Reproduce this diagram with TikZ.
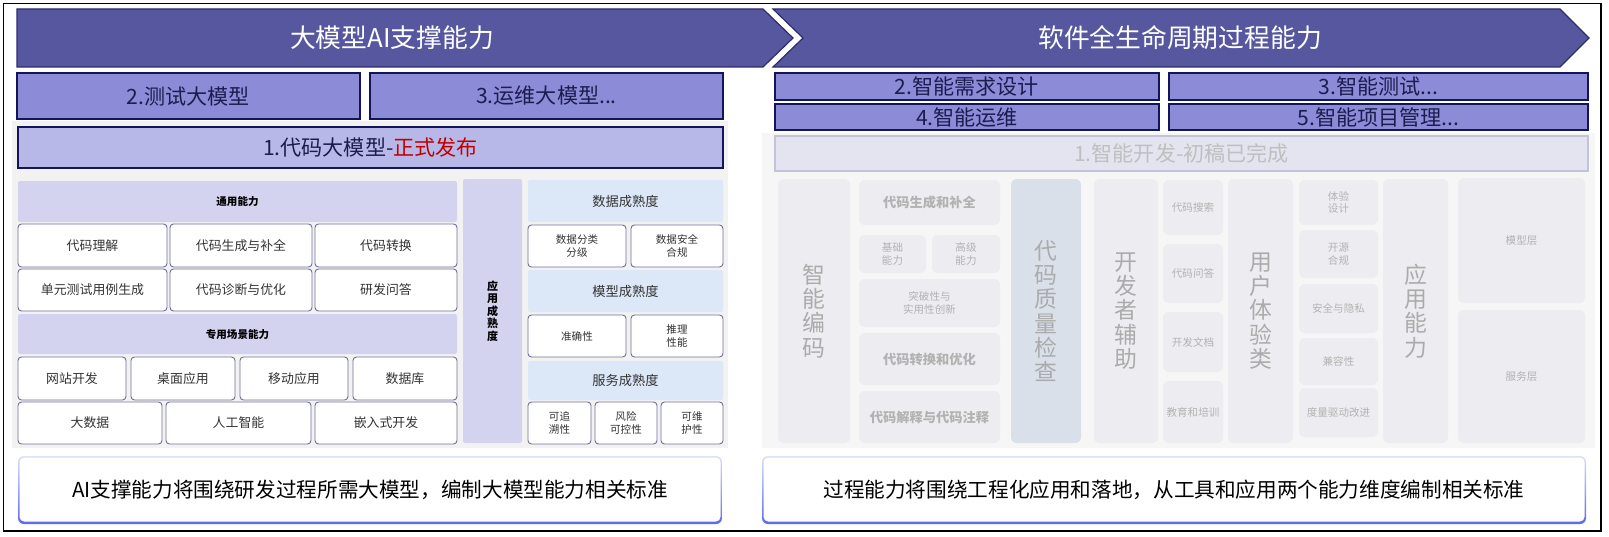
\documentclass[tikz,border=0pt]{standalone}
\usepackage{fontspec}
\setmainfont{Noto Sans CJK SC}

\definecolor{bannerfill}{HTML}{5757A0}
\definecolor{bannerline}{HTML}{2B2B6B}
\definecolor{rowfill}{HTML}{8B8BD7}
\definecolor{rowline}{HTML}{14145A}
\definecolor{rowtext}{HTML}{1C1C50}
\definecolor{mainfill}{HTML}{B8B8E8}
\definecolor{panelgrey}{HTML}{F2F2F2}
\definecolor{headfill}{HTML}{D3D3F0}
\definecolor{cellline}{HTML}{70709A}
\definecolor{bluehead}{HTML}{DCE7F7}
\definecolor{redtext}{HTML}{C00000}
\definecolor{fadefill}{HTML}{EDEDF1}
\definecolor{fadetext}{HTML}{B2B2B2}
\definecolor{checkfill}{HTML}{DAE0EA}
\definecolor{draftfill}{HTML}{E4E4F0}
\definecolor{draftline}{HTML}{C2C2DA}
\definecolor{noteblue}{HTML}{5B68F2}
\definecolor{notelight}{HTML}{DDE1FB}

\begin{document}
\begin{tikzpicture}[x=0.03cm, y=-0.03cm,
  spanbox/.style n args={4}{minimum width={(#3-#1)*0.03cm}, minimum height={(#4-#2)*0.03cm}, at={({(#1+#3)/2},{(#2+#4)/2})}},
  rowbox/.style={draw=rowline, fill=rowfill, line width=1pt, inner sep=0pt, text=rowtext, align=center, font=\fontsize{18}{21}\selectfont},
  headbox/.style={fill=headfill, rounded corners=2pt, inner sep=0pt, text=black, align=center, font=\fontsize{9}{10.6}\selectfont\bfseries},
  cellbox/.style={draw=cellline, fill=white, line width=0.8pt, rounded corners=3pt, inner sep=0pt, text=black!80, align=center, font=\fontsize{11}{13}\selectfont},
  smallcell/.style={cellbox, font=\fontsize{9}{10.5}\selectfont},
  bluebox/.style={fill=bluehead, rounded corners=2pt, inner sep=0pt, text=black!80, align=center, font=\fontsize{11.3}{13}\selectfont},
  fadebox/.style={fill=fadefill, rounded corners=5pt, inner sep=0pt, text=fadetext, align=center, font=\fontsize{9}{10.5}\selectfont},
  fadebig/.style={fadebox, text=black!33, font=\fontsize{19.5}{20.8}\selectfont},
  fadebold/.style={fadebox, font=\fontsize{11.3}{13}\selectfont\bfseries}]
%% px grid: x right, y down, 1609 x 536
%%   9..67    chevron banners
%%   73..171  numbered rows
%%   179..444 capability panels
%%   456..524 note boxes
\useasboundingbox (0,0) rectangle (1609,536);
\draw[line width=1.1pt] (3.5,3.5) rectangle (1601,531);

%% ---- Banners ----
\draw[draw=bannerline, fill=bannerfill, line width=1pt]
  (17,9) -- (763,9) -- (793,38) -- (763,67) -- (17,67) -- cycle;
\node[text=white, font=\fontsize{22}{26}\selectfont] (ltitle) at (392,38) {大模型AI支撑能力};
\draw[draw=bannerline, fill=bannerfill, line width=1pt]
  (773,9) -- (1560,9) -- (1589,38) -- (1560,67) -- (773,67) -- (803,38) -- cycle;
\node[text=white, font=\fontsize{22}{26}\selectfont] (rtitle) at (1180,38) {软件全生命周期过程能力};

%% ---- Grey panels ----
\fill[panelgrey] (12,121) rectangle (728,448);
\fill[panelgrey!70!white] (762,133) rectangle (1595,448);

%% ---- Numbered rows ----
\foreach \xa/\ya/\xb/\yb/\nm/\txt in {
    17/73/360/119/testllm/{2.测试大模型},
    370/73/723/119/opsllm/{3.运维大模型...},
    775/73/1159/100/ireq/{2.智能需求设计},
    1169/73/1588/100/itest/{3.智能测试...},
    775/104/1159/130/iops/{4.智能运维},
    1169/104/1588/130/ipm/{5.智能项目管理...}}
  \node[rowbox, spanbox={\xa}{\ya}{\xb}{\yb}] (\nm) {\txt};

\node[rowbox, fill=mainfill, spanbox={18}{127}{723}{168}] (codellm)
  {1.代码大模型-{\color{redtext}正式发布}};
\node[rowbox, draw=draftline, fill=draftfill, text=black!25, spanbox={775}{136}{1588}{171}] (idev)
  {1.智能开发-初稿已完成};

%% ---- Left: general / scenario capabilities ----
\node[headbox, spanbox={18}{181}{457}{222}] (general) {通用能力};
\node[headbox, spanbox={18}{314}{457}{354}] (scene) {专用场景能力};
\foreach \xa/\ya/\xb/\yb/\nm/\txt in {
    18/224/167/267/gc1/代码理解, 170/224/312/267/gc2/代码生成与补全, 315/224/457/267/gc3/代码转换,
    18/269/167/311/gc4/单元测试用例生成, 170/269/312/311/gc5/代码诊断与优化, 315/269/457/311/gc6/研发问答,
    18/357/126/400/sc1/网站开发, 131/357/235/400/sc2/桌面应用, 240/357/348/400/sc3/移动应用, 353/357/457/400/sc4/数据库,
    18/402/162/444/sc5/大数据, 166/402/311/444/sc6/人工智能, 315/402/457/444/sc7/嵌入式开发}
  \node[cellbox, spanbox={\xa}{\ya}{\xb}{\yb}] (\nm) {\txt};

\node[headbox, font=\fontsize{9.4}{10.6}\selectfont\bfseries, spanbox={463}{179}{522}{443}] (appmature)
  {应\\用\\成\\熟\\度};

%% ---- Left: maturity column ----
\node[bluebox, spanbox={528}{180}{723}{222}] (datamat) {数据成熟度};
\node[bluebox, spanbox={528}{270}{723}{312}] (modelmat) {模型成熟度};
\node[bluebox, spanbox={528}{361}{723}{400}] (servmat) {服务成熟度};
\foreach \xa/\ya/\xb/\yb/\nm/\txt in {
    528/225/626/267/dm1/{数据分类\\分级}, 631/225/723/267/dm2/{数据安全\\合规},
    528/315/626/357/mm1/准确性, 631/315/723/357/mm2/{推理\\性能},
    528/402/591/444/sm1/{可追\\溯性}, 595/402/657/444/sm2/{风险\\可控性}, 661/402/723/444/sm3/{可维\\护性}}
  \node[smallcell, spanbox={\xa}{\ya}{\xb}{\yb}] (\nm) {\txt};

%% ---- Right: tool / application dimensions (faded) ----
\foreach \xa/\ya/\xb/\yb/\nm/\txt in {
    778/179/850/443/smartcode/{智\\能\\编\\码},
    1094/179/1158/443/devhelp/{开\\发\\者\\辅\\助},
    1228/179/1293/443/userexp/{用\\户\\体\\验\\类},
    1383/179/1448/443/appcap/{应\\用\\能\\力}}
  \node[fadebig, spanbox={\xa}{\ya}{\xb}{\yb}] (\nm) {\txt};
\node[fadebig, fill=checkfill, spanbox={1011}{179}{1081}{443}] (qcheck) {代\\码\\质\\量\\检\\查};

\foreach \xa/\ya/\xb/\yb/\nm/\txt in {
    859/180/1000/225/genfill/代码生成和补全,
    859/333/1000/385/transopt/代码转换和优化,
    859/391/1000/443/explain/代码解释与代码注释}
  \node[fadebold, spanbox={\xa}{\ya}{\xb}{\yb}] (\nm) {\txt};

\foreach \xa/\ya/\xb/\yb/\nm/\txt in {
    859/235/926/273/basecap/{基础\\能力}, 932/235/1000/273/advcap/{高级\\能力},
    859/279/1000/327/innov/{突破性与\\实用性创新},
    1163/180/1223/235/search/代码搜索, 1163/244/1223/303/qa/代码问答,
    1163/312/1223/372/devdoc/开发文档, 1163/381/1223/443/train/教育和培训,
    1299/180/1378/225/uxd/{体验\\设计}, 1299/230/1378/278/oss/{开源\\合规},
    1299/284/1378/333/secpriv/安全与隐私, 1299/338/1378/385/compat/兼容性,
    1299/388/1378/437/metric/度量驱动改进,
    1458/178/1585/303/modellayer/模型层, 1458/310/1585/443/servlayer/服务层}
  \node[fadebox, spanbox={\xa}{\ya}{\xb}{\yb}] (\nm) {\txt};

%% ---- Note boxes ----
\shade[top color=notelight, bottom color=noteblue, rounded corners=5pt] (18,456) rectangle (722,524);
\fill[white, rounded corners=4pt] (19.5,457.5) rectangle (720.5,521.5);
\node[font=\fontsize{17.6}{20}\selectfont] (lnote) at (370,490)
  {AI支撑能力将围绕研发过程所需大模型，编制大模型能力相关标准};
\shade[top color=notelight, bottom color=noteblue, rounded corners=5pt] (762,456) rectangle (1586,524);
\fill[white, rounded corners=4pt] (763.5,457.5) rectangle (1584.5,521.5);
\node[font=\fontsize{17.6}{20}\selectfont] (rnote) at (1174,490)
  {过程能力将围绕工程化应用和落地，从工具和应用两个能力维度编制相关标准};
\end{tikzpicture}
\end{document}
